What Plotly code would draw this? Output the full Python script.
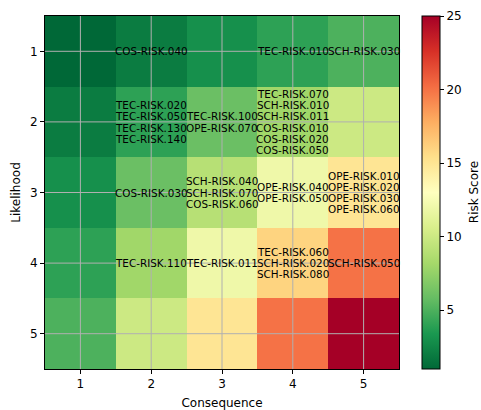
import plotly.graph_objects as go

# Axis categories
consequence = [1, 2, 3, 4, 5]
likelihood = [1, 2, 3, 4, 5]

# Risk score per cell (rows = likelihood, cols = consequence)
scores = [
    [1, 2, 3, 4, 5],
    [2, 4, 6, 8, 10],
    [3, 6, 9, 12, 15],
    [4, 8, 12, 16, 20],
    [5, 10, 15, 20, 25],
]

# Risk identifiers placed in each cell: (likelihood, consequence, ids)
cell_risks = [
    (1, 2, ["COS-RISK.040"]),
    (1, 4, ["TEC-RISK.010"]),
    (1, 5, ["SCH-RISK.030"]),
    (2, 2, ["TEC-RISK.020", "TEC-RISK.050", "TEC-RISK.130", "TEC-RISK.140"]),
    (2, 3, ["TEC-RISK.100", "OPE-RISK.070"]),
    (2, 4, ["TEC-RISK.070", "SCH-RISK.010", "SCH-RISK.011",
            "COS-RISK.010", "COS-RISK.020", "COS-RISK.050"]),
    (3, 2, ["COS-RISK.030"]),
    (3, 3, ["SCH-RISK.040", "SCH-RISK.070", "COS-RISK.060"]),
    (3, 4, ["OPE-RISK.040", "OPE-RISK.050"]),
    (3, 5, ["OPE-RISK.010", "OPE-RISK.020", "OPE-RISK.030", "OPE-RISK.060"]),
    (4, 2, ["TEC-RISK.110"]),
    (4, 3, ["TEC-RISK.011"]),
    (4, 4, ["TEC-RISK.060", "SCH-RISK.020", "SCH-RISK.080"]),
    (4, 5, ["SCH-RISK.050"]),
]

colorbar_ticks = [5, 10, 15, 20, 25]

FONT = "DejaVu Sans"
LINE_H = 11.2  # pixel spacing between stacked labels
GRID = "#b0b0b0"

fig = go.Figure()
fig.add_trace(go.Heatmap(
    x=consequence,
    y=likelihood,
    z=scores,
    zmin=1,
    zmax=25,
    colorscale="RdYlGn",
    reversescale=True,
    hoverinfo="skip",
    colorbar=dict(
        x=1.065, xanchor="left", xpad=0,
        y=0.5, yanchor="middle", ypad=0,
        len=1, lenmode="fraction",
        thickness=18,
        outlinewidth=1, outlinecolor="black",
        ticks="outside", ticklen=4, tickcolor="black", tickwidth=1,
        tickvals=colorbar_ticks,
        tickfont=dict(family=FONT, size=12, color="black"),
    ),
))

# Grid lines drawn over the heatmap at each tick
shapes = []
for c in consequence:
    shapes.append(dict(type="line", xref="x", yref="paper", x0=c, x1=c,
                       y0=0, y1=1, layer="above",
                       line=dict(color=GRID, width=1)))
for lk in likelihood:
    shapes.append(dict(type="line", xref="paper", yref="y", x0=0, x1=1,
                       y0=lk, y1=lk, layer="above",
                       line=dict(color=GRID, width=1)))

annotations = []
for lk, cq, ids in cell_risks:
    n = len(ids)
    for i, rid in enumerate(ids):
        annotations.append(dict(
            x=cq, y=lk, xref="x", yref="y",
            text=rid, showarrow=False,
            yshift=((n - 1) / 2 - i) * LINE_H,
            font=dict(family=FONT, size=10.4, color="black"),
        ))

# Colorbar label, rotated beside the tick labels
annotations.append(dict(
    x=1.211, y=0.5, xref="paper", yref="paper",
    text="Risk Score", showarrow=False, textangle=-90,
    xanchor="center", yanchor="middle", borderpad=0,
    font=dict(family=FONT, size=12, color="black"),
))

axis_common = dict(
    tickvals=[1, 2, 3, 4, 5],
    ticks="outside", ticklen=4, tickwidth=1, tickcolor="black",
    showline=True, linecolor="black", linewidth=1, mirror=True,
    showgrid=False,
    zeroline=False,
    tickfont=dict(family=FONT, size=12, color="black"),
)

fig.update_layout(
    width=481, height=410,
    margin=dict(l=45, r=82, t=16, b=41, autoexpand=False),
    paper_bgcolor="white",
    plot_bgcolor="white",
    font=dict(family=FONT, color="black"),
    annotations=annotations,
    shapes=shapes,
    xaxis=dict(
        range=[0.5, 5.5],
        title=dict(text="Consequence", standoff=8,
                   font=dict(family=FONT, size=12, color="black")),
        **axis_common,
    ),
    yaxis=dict(
        range=[5.5, 0.5],
        title=dict(text="Likelihood", standoff=6,
                   font=dict(family=FONT, size=12, color="black")),
        **axis_common,
    ),
)

fig.write_html("out.html")
